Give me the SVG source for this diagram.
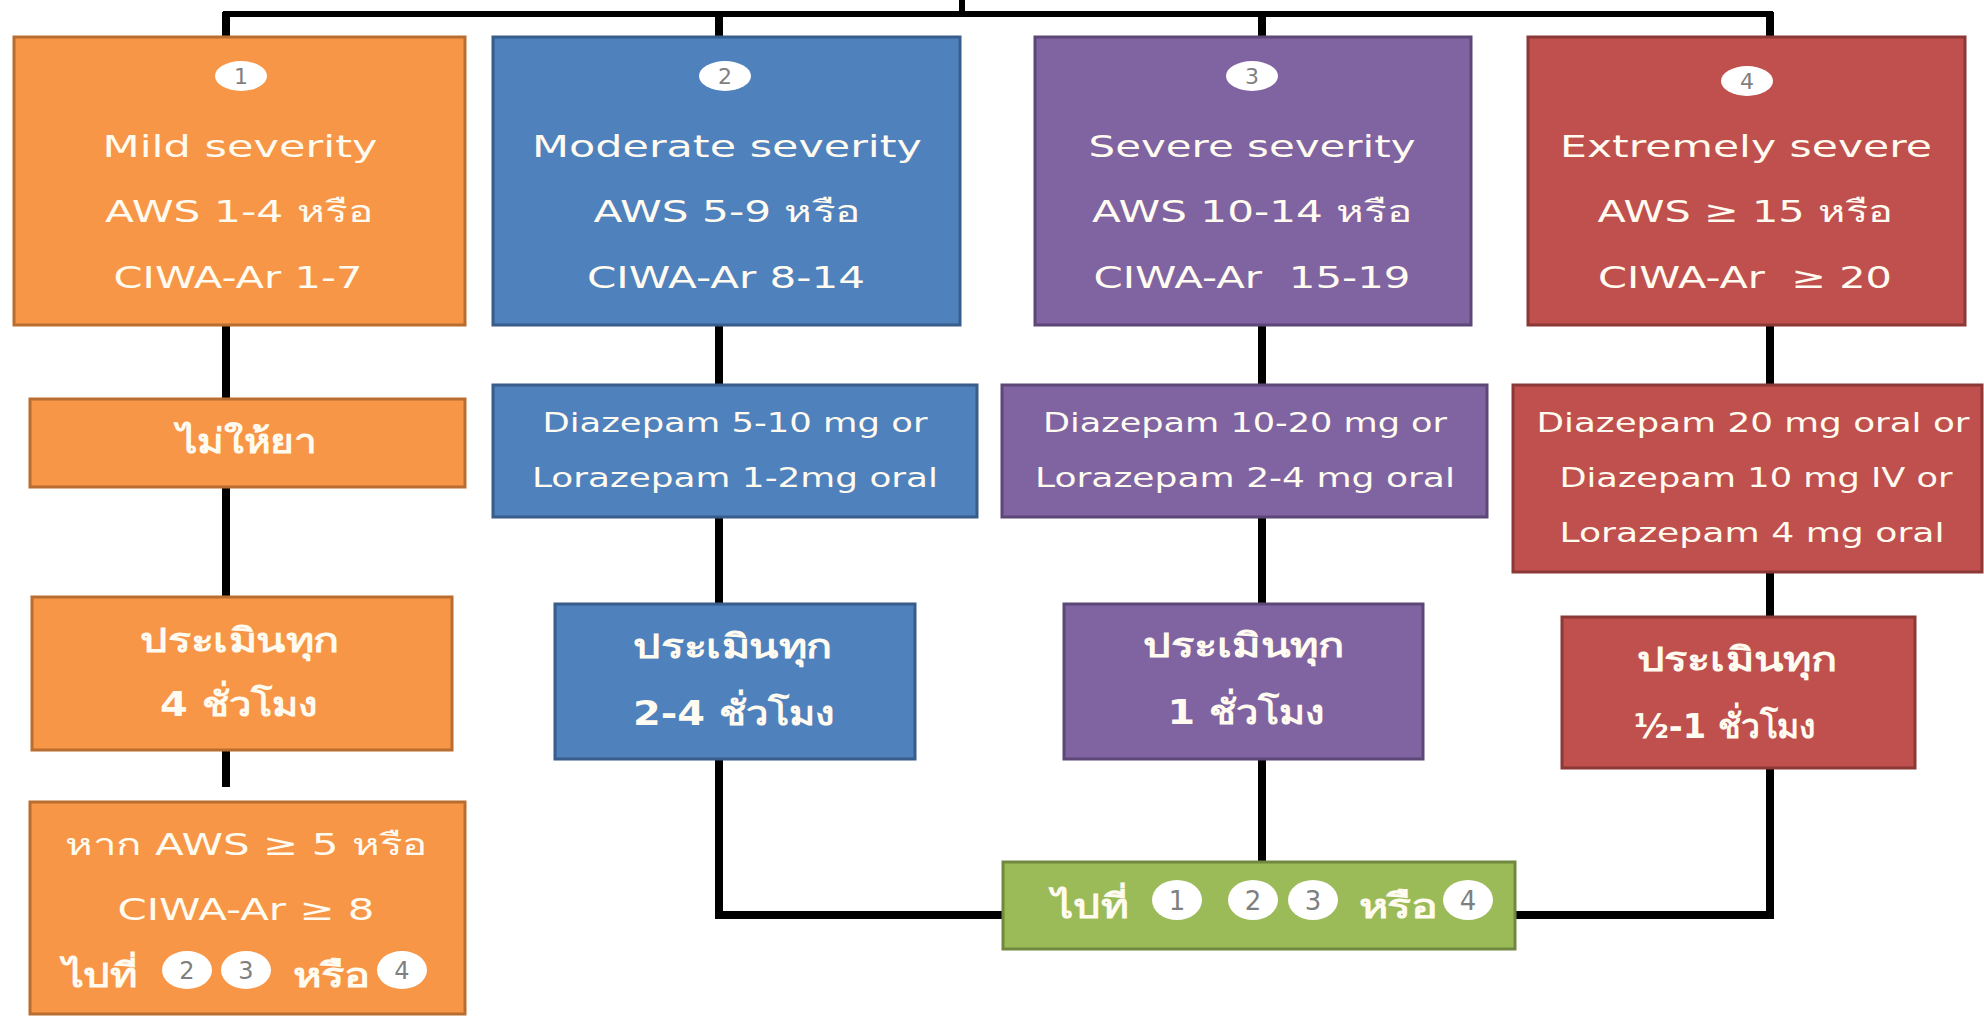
<svg xmlns="http://www.w3.org/2000/svg" width="1984" height="1017" viewBox="0 0 1984 1017">
  <style>
    .t { font-family: "DejaVu Sans", "Noto Sans", sans-serif; fill: #fffbf0; text-anchor: middle; }
    .h { font-size: 30px; }
    .d { font-size: 27px; }
    .th { font-size: 34px; font-weight: bold; }
    .num { font-family: "DejaVu Sans", sans-serif; fill: #7f7f7f; text-anchor: middle; }
    .badge { fill: #ffffff; }
    .orange { fill: #f79646; stroke: #b96d30; stroke-width: 3; }
    .blue { fill: #4f81bd; stroke: #385d8a; stroke-width: 3; }
    .purple { fill: #8064a2; stroke: #5c4776; stroke-width: 3; }
    .red { fill: #c0504d; stroke: #8c3836; stroke-width: 3; }
    .green { fill: #9bbb59; stroke: #71893f; stroke-width: 3; }
    .wire { fill: none; stroke: #000000; stroke-width: 8; stroke-linejoin: miter; }
    .bus { fill: none; stroke: #000000; stroke-width: 6; }
  </style>
  <rect x="0" y="0" width="1984" height="1017" fill="#ffffff"/>

  <g id="connectors">
    <path class="bus" d="M962,0 V14"/>
    <path class="bus" d="M226,16 V14 H1770 V16"/>
    <path class="wire" d="M226,12 V37 M719,12 V37 M1262,12 V37 M1770,12 V37"/>
    <path class="wire" d="M226,325 V399 M226,487 V597 M226,750 V787"/>
    <path class="wire" d="M719,325 V385 M719,517 V604"/>
    <path class="wire" d="M719,759 V915 H1003"/>
    <path class="wire" d="M1262,325 V385 M1262,517 V604 M1262,759 V862"/>
    <path class="wire" d="M1770,325 V385 M1770,572 V617"/>
    <path class="wire" d="M1770,768 V915 H1515"/>
  </g>

  <!-- Level 1: severity -->
  <g id="mild">
    <rect class="orange" x="14" y="37" width="451" height="288"/>
    <ellipse class="badge" cx="241" cy="76" rx="26" ry="15"/>
    <text class="num" x="241" y="84" font-size="22">1</text>
    <text class="t h" x="240" y="157" textLength="275" lengthAdjust="spacingAndGlyphs">Mild severity</text>
    <text class="t h" x="239" y="222" textLength="268" lengthAdjust="spacingAndGlyphs">AWS 1-4 หรือ</text>
    <text class="t h" x="238" y="288" textLength="249" lengthAdjust="spacingAndGlyphs">CIWA-Ar 1-7</text>
  </g>
  <g id="moderate">
    <rect class="blue" x="493" y="37" width="467" height="288"/>
    <ellipse class="badge" cx="725" cy="76" rx="26" ry="15"/>
    <text class="num" x="725" y="84" font-size="22">2</text>
    <text class="t h" x="727" y="157" textLength="390" lengthAdjust="spacingAndGlyphs">Moderate severity</text>
    <text class="t h" x="727" y="222" textLength="267" lengthAdjust="spacingAndGlyphs">AWS 5-9 หรือ</text>
    <text class="t h" x="726" y="288" textLength="278" lengthAdjust="spacingAndGlyphs">CIWA-Ar 8-14</text>
  </g>
  <g id="severe">
    <rect class="purple" x="1035" y="37" width="436" height="288"/>
    <ellipse class="badge" cx="1252" cy="76" rx="26" ry="15"/>
    <text class="num" x="1252" y="84" font-size="22">3</text>
    <text class="t h" x="1252" y="157" textLength="327" lengthAdjust="spacingAndGlyphs">Severe severity</text>
    <text class="t h" x="1252" y="222" textLength="320" lengthAdjust="spacingAndGlyphs">AWS 10-14 หรือ</text>
    <text class="t h" x="1252" y="288" textLength="317" lengthAdjust="spacingAndGlyphs" xml:space="preserve">CIWA-Ar  15-19</text>
  </g>
  <g id="extreme">
    <rect class="red" x="1528" y="37" width="437" height="288"/>
    <ellipse class="badge" cx="1747" cy="81" rx="26" ry="15"/>
    <text class="num" x="1747" y="89" font-size="22">4</text>
    <text class="t h" x="1746" y="157" textLength="372" lengthAdjust="spacingAndGlyphs">Extremely severe</text>
    <text class="t h" x="1745" y="222" textLength="295" lengthAdjust="spacingAndGlyphs">AWS ≥ 15 หรือ</text>
    <text class="t h" x="1745" y="288" textLength="294" lengthAdjust="spacingAndGlyphs" xml:space="preserve">CIWA-Ar  ≥ 20</text>
  </g>

  <!-- Level 2: medication -->
  <g id="mild-drug">
    <rect class="orange" x="30" y="399" width="435" height="88"/>
    <text class="t th" x="247" y="453" textLength="140" lengthAdjust="spacingAndGlyphs">ไม่ให้ยา</text>
  </g>
  <g id="moderate-drug">
    <rect class="blue" x="493" y="385" width="484" height="132"/>
    <text class="t d" x="735" y="432" textLength="385" lengthAdjust="spacingAndGlyphs">Diazepam 5-10 mg or</text>
    <text class="t d" x="735" y="487" textLength="406" lengthAdjust="spacingAndGlyphs">Lorazepam 1-2mg oral</text>
  </g>
  <g id="severe-drug">
    <rect class="purple" x="1002" y="385" width="485" height="132"/>
    <text class="t d" x="1245" y="432" textLength="404" lengthAdjust="spacingAndGlyphs">Diazepam 10-20 mg or</text>
    <text class="t d" x="1245" y="487" textLength="420" lengthAdjust="spacingAndGlyphs">Lorazepam 2-4 mg oral</text>
  </g>
  <g id="extreme-drug">
    <rect class="red" x="1513" y="385" width="469" height="187"/>
    <text class="t d" x="1753" y="432" textLength="433" lengthAdjust="spacingAndGlyphs">Diazepam 20 mg oral or</text>
    <text class="t d" x="1756" y="487" textLength="393" lengthAdjust="spacingAndGlyphs">Diazepam 10 mg IV or</text>
    <text class="t d" x="1752" y="542" textLength="385" lengthAdjust="spacingAndGlyphs">Lorazepam 4 mg oral</text>
  </g>

  <!-- Level 3: reassessment interval -->
  <g id="mild-assess">
    <rect class="orange" x="32" y="597" width="420" height="153"/>
    <text class="t th" x="240" y="652" textLength="200" lengthAdjust="spacingAndGlyphs">ประเมินทุก</text>
    <text class="t th" x="239" y="716" textLength="158" lengthAdjust="spacingAndGlyphs">4 ชั่วโมง</text>
  </g>
  <g id="moderate-assess">
    <rect class="blue" x="555" y="604" width="360" height="155"/>
    <text class="t th" x="733" y="658" textLength="200" lengthAdjust="spacingAndGlyphs">ประเมินทุก</text>
    <text class="t th" x="734" y="725" textLength="202" lengthAdjust="spacingAndGlyphs">2-4 ชั่วโมง</text>
  </g>
  <g id="severe-assess">
    <rect class="purple" x="1064" y="604" width="359" height="155"/>
    <text class="t th" x="1244" y="657" textLength="202" lengthAdjust="spacingAndGlyphs">ประเมินทุก</text>
    <text class="t th" x="1246" y="724" textLength="157" lengthAdjust="spacingAndGlyphs">1 ชั่วโมง</text>
  </g>
  <g id="extreme-assess">
    <rect class="red" x="1562" y="617" width="353" height="151"/>
    <text class="t th" x="1737" y="671" textLength="201" lengthAdjust="spacingAndGlyphs">ประเมินทุก</text>
    <text class="t th" x="1725" y="738" textLength="182" lengthAdjust="spacingAndGlyphs">½-1 ชั่วโมง</text>
  </g>

  <!-- Level 4: escalation -->
  <g id="mild-escalate">
    <rect class="orange" x="30" y="802" width="435" height="212"/>
    <text class="t h" x="246" y="855" textLength="363" lengthAdjust="spacingAndGlyphs">หาก AWS ≥ 5 หรือ</text>
    <text class="t h" x="246" y="920" textLength="257" lengthAdjust="spacingAndGlyphs">CIWA-Ar ≥ 8</text>
    <text class="t th" x="100" y="987" textLength="75" lengthAdjust="spacingAndGlyphs">ไปที่</text>
    <ellipse class="badge" cx="187" cy="970" rx="25" ry="19"/>
    <text class="num" x="187" y="979" font-size="24">2</text>
    <ellipse class="badge" cx="246" cy="970" rx="25" ry="19"/>
    <text class="num" x="246" y="979" font-size="24">3</text>
    <text class="t th" x="331" y="987" textLength="77" lengthAdjust="spacingAndGlyphs">หรือ</text>
    <ellipse class="badge" cx="402" cy="970" rx="25" ry="19"/>
    <text class="num" x="402" y="979" font-size="24">4</text>
  </g>
  <g id="reassess">
    <rect class="green" x="1003" y="862" width="512" height="87"/>
    <text class="t th" x="1090" y="918" textLength="76" lengthAdjust="spacingAndGlyphs">ไปที่</text>
    <ellipse class="badge" cx="1177" cy="900" rx="25" ry="20"/>
    <text class="num" x="1177" y="910" font-size="26">1</text>
    <ellipse class="badge" cx="1253" cy="900" rx="25" ry="20"/>
    <text class="num" x="1253" y="910" font-size="26">2</text>
    <ellipse class="badge" cx="1313" cy="900" rx="25" ry="20"/>
    <text class="num" x="1313" y="910" font-size="26">3</text>
    <text class="t th" x="1398" y="918" textLength="79" lengthAdjust="spacingAndGlyphs">หรือ</text>
    <ellipse class="badge" cx="1468" cy="900" rx="25" ry="20"/>
    <text class="num" x="1468" y="910" font-size="26">4</text>
  </g>
</svg>
